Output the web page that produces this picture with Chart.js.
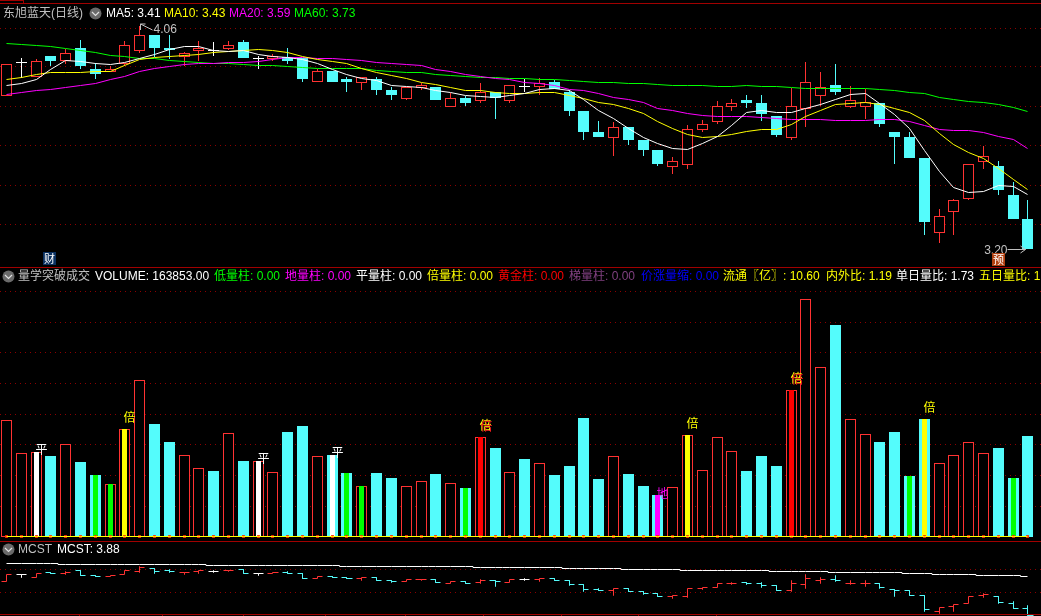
<!DOCTYPE html>
<html>
<head>
<meta charset="utf-8">
<script src="https://cdn.jsdelivr.net/npm/chart.js@4.4.1/dist/chart.umd.min.js"></script>
<style>
  html, body { margin: 0; background: #000; width: 1041px; height: 616px; overflow: hidden; }
  canvas { position: absolute; left: 0; }
  .t { position: absolute; white-space: nowrap; font: 12px/14px "Liberation Sans", "Noto Sans CJK SC", sans-serif; }
  .rule { position: absolute; left: 0; width: 1041px; height: 1px; background: #a00000; }
  .icon { position: absolute; }
  .tag { position: absolute; width: 13px; height: 13px; color: #fff; text-align: center; font: 11px/13px "Noto Sans CJK SC", sans-serif; }
</style>
</head>
<body>
<canvas id="priceChart" width="1041" height="267" style="top:0"></canvas>
<canvas id="volumeChart" width="1041" height="274" style="top:267px"></canvas>
<canvas id="mcstChart" width="1041" height="75" style="top:541px"></canvas>
<div class="rule" style="top:0;width:23px"></div>
<div class="rule" style="top:0;left:23px;width:1px;height:3px"></div>
<div class="rule" style="top:3px"></div>
<div class="rule" style="top:267px"></div>
<div class="rule" style="top:541px"></div>
<div class="rule" style="top:614px"></div>
<div id="labels"></div>
<script>
/* ================================
   DATA
================================ */
const opens = [
  3.792, 3.916, 3.864, 3.944, 3.925, 3.975, 3.894, 3.884, 3.914, 3.965,
  4.025, 3.975, 3.942, 3.965, 3.964, 3.971, 3.997, 3.934, 3.934, 3.939,
  3.938, 3.843, 3.885, 3.856, 3.842, 3.856, 3.813, 3.780, 3.821, 3.824,
  3.749, 3.783, 3.772, 3.805, 3.772, 3.824, 3.824, 3.844, 3.806, 3.733,
  3.652, 3.630, 3.671, 3.621, 3.582, 3.518, 3.525, 3.661, 3.691, 3.749,
  3.775, 3.763, 3.713, 3.629, 3.740, 3.792, 3.833, 3.749, 3.749, 3.762,
  3.652, 3.633, 3.552, 3.264, 3.345, 3.395, 3.537, 3.521, 3.409, 3.317
];
const closes = [
  3.912, 3.916, 3.925, 3.925, 3.956, 3.907, 3.876, 3.893, 3.987, 4.025,
  3.975, 3.967, 3.955, 3.974, 3.964, 3.986, 3.938, 3.934, 3.943, 3.926,
  3.857, 3.885, 3.845, 3.844, 3.862, 3.813, 3.794, 3.824, 3.832, 3.775,
  3.782, 3.763, 3.806, 3.783, 3.832, 3.824, 3.842, 3.816, 3.733, 3.652,
  3.633, 3.670, 3.621, 3.582, 3.529, 3.539, 3.662, 3.681, 3.752, 3.763,
  3.763, 3.721, 3.640, 3.752, 3.843, 3.824, 3.806, 3.774, 3.766, 3.683,
  3.633, 3.552, 3.305, 3.328, 3.389, 3.527, 3.559, 3.428, 3.317, 3.200
];
const highs = [
  3.912, 3.937, 3.931, 3.944, 3.971, 4.006, 3.917, 3.907, 4.002, 4.060,
  4.025, 4.025, 3.961, 4.002, 3.998, 4.002, 4.006, 3.946, 3.952, 3.975,
  3.938, 3.893, 3.885, 3.865, 3.862, 3.865, 3.824, 3.824, 3.839, 3.824,
  3.801, 3.792, 3.839, 3.805, 3.832, 3.855, 3.859, 3.852, 3.813, 3.733,
  3.694, 3.690, 3.671, 3.621, 3.582, 3.554, 3.679, 3.698, 3.771, 3.779,
  3.794, 3.794, 3.713, 3.822, 3.920, 3.883, 3.914, 3.829, 3.817, 3.762,
  3.652, 3.652, 3.552, 3.355, 3.394, 3.527, 3.598, 3.540, 3.459, 3.390
];
const lows = [
  3.792, 3.860, 3.864, 3.907, 3.914, 3.894, 3.857, 3.883, 3.907, 3.957,
  3.942, 3.933, 3.907, 3.925, 3.946, 3.967, 3.938, 3.896, 3.926, 3.914,
  3.844, 3.843, 3.845, 3.806, 3.813, 3.794, 3.775, 3.775, 3.813, 3.775,
  3.749, 3.752, 3.763, 3.702, 3.763, 3.806, 3.794, 3.816, 3.715, 3.621,
  3.633, 3.559, 3.602, 3.559, 3.521, 3.490, 3.509, 3.652, 3.683, 3.734,
  3.745, 3.694, 3.633, 3.621, 3.671, 3.752, 3.794, 3.744, 3.702, 3.671,
  3.529, 3.552, 3.255, 3.224, 3.255, 3.390, 3.509, 3.409, 3.317, 3.200
];
const ma5 = [
  3.829, 3.840, 3.855, 3.893, 3.926, 3.922, 3.915, 3.911, 3.919, 3.936,
  3.951, 3.970, 3.980, 3.980, 3.965, 3.961, 3.964, 3.951, 3.944, 3.939,
  3.932, 3.916, 3.893, 3.875, 3.856, 3.849, 3.832, 3.826, 3.824, 3.810,
  3.803, 3.793, 3.789, 3.784, 3.793, 3.801, 3.815, 3.819, 3.811, 3.778,
  3.736, 3.705, 3.666, 3.631, 3.606, 3.589, 3.585, 3.608, 3.636, 3.675,
  3.726, 3.734, 3.728, 3.728, 3.742, 3.756, 3.775, 3.797, 3.801, 3.762,
  3.721, 3.666, 3.582, 3.499, 3.439, 3.420, 3.423, 3.447, 3.441, 3.410
];
const ma10 = [
  3.852, 3.862, 3.875, 3.879, 3.879, 3.879, 3.883, 3.885, 3.909, 3.929,
  3.938, 3.942, 3.947, 3.951, 3.959, 3.961, 3.966, 3.970, 3.965, 3.959,
  3.944, 3.932, 3.924, 3.914, 3.898, 3.880, 3.871, 3.859, 3.842, 3.833,
  3.822, 3.812, 3.810, 3.805, 3.799, 3.801, 3.805, 3.805, 3.794, 3.782,
  3.766, 3.758, 3.743, 3.724, 3.691, 3.666, 3.641, 3.629, 3.634, 3.643,
  3.653, 3.662, 3.662, 3.680, 3.711, 3.736, 3.756, 3.763, 3.765, 3.756,
  3.743, 3.728, 3.695, 3.647, 3.602, 3.572, 3.551, 3.512, 3.467, 3.430
];
const ma20 = [
  3.797, 3.802, 3.811, 3.816, 3.824, 3.830, 3.839, 3.855, 3.865, 3.884,
  3.897, 3.903, 3.910, 3.915, 3.917, 3.919, 3.921, 3.925, 3.932, 3.939,
  3.939, 3.936, 3.933, 3.929, 3.926, 3.920, 3.916, 3.912, 3.906, 3.894,
  3.884, 3.875, 3.867, 3.859, 3.852, 3.843, 3.839, 3.832, 3.817, 3.810,
  3.801, 3.785, 3.778, 3.766, 3.743, 3.733, 3.724, 3.715, 3.711, 3.712,
  3.711, 3.707, 3.702, 3.701, 3.701, 3.701, 3.697, 3.697, 3.697, 3.699,
  3.699, 3.693, 3.676, 3.663, 3.658, 3.658, 3.651, 3.636, 3.621, 3.590
];
const ma60 = [
  3.993, 3.989, 3.986, 3.980, 3.974, 3.967, 3.959, 3.948, 3.942, 3.936,
  3.933, 3.926, 3.922, 3.919, 3.917, 3.915, 3.912, 3.909, 3.907, 3.903,
  3.899, 3.898, 3.897, 3.897, 3.897, 3.888, 3.884, 3.882, 3.880, 3.874,
  3.870, 3.865, 3.862, 3.861, 3.857, 3.856, 3.855, 3.853, 3.849, 3.845,
  3.843, 3.842, 3.839, 3.838, 3.835, 3.832, 3.832, 3.829, 3.828, 3.828,
  3.832, 3.828, 3.828, 3.822, 3.820, 3.820, 3.820, 3.820, 3.820, 3.815,
  3.811, 3.805, 3.799, 3.785, 3.778, 3.770, 3.766, 3.758, 3.747, 3.730
];
const volumes = [
  189300, 135500, 137200, 131100, 150200, 121400, 100200, 85000, 174600, 254400,
  183300, 153900, 132300, 111100, 106700, 168100, 123000, 122500, 104600, 170200,
  180000, 130600, 132800, 103400, 81800, 103400, 95300, 81800, 89900, 101800,
  86700, 79000, 161600, 144200, 104600, 126200, 119200, 100200, 114800, 193000,
  93700, 130600, 101800, 82300, 67600, 80100, 164900, 107800, 161600, 138800,
  106700, 131100, 114800, 238200, 386400, 275600, 344500, 190900, 166500, 153900,
  170200, 98600, 191400, 119200, 132300, 153500, 135500, 144200, 95300, 163853
];
// flat candles whose volume bar is still drawn as a rising one
const flatUpDays = [1, 17];
const lowVolDays = [6, 7, 23, 24, 31, 61, 68];   // 低量柱
const flatVolDays = [2, 17, 22];                 // 平量柱
const doubleVolDays = [8, 46, 62];               // 倍量柱
const goldDays = [32, 53];                       // 黄金柱
const groundVolDays = [44];                      // 地量柱
const indicatorZero = [
  0, 0, 0, 0, 0, 0, 0, 0, 0, 0, 0, 0, 0, 0, 0, 0, 0, 0, 0, 0, 0, 0, 0, 0, 0, 0, 0, 0, 0, 0, 0, 0, 0, 0, 0,
  0, 0, 0, 0, 0, 0, 0, 0, 0, 0, 0, 0, 0, 0, 0, 0, 0, 0, 0, 0, 0, 0, 0, 0, 0, 0, 0, 0, 0, 0, 0, 0, 0, 0, 0
];
const mcstOpens = [
  3.83, 3.90, 3.87, 3.92, 3.91, 3.94, 3.89, 3.88, 3.90, 3.93,
  3.96, 3.94, 3.92, 3.93, 3.93, 3.94, 3.95, 3.91, 3.91, 3.92,
  3.91, 3.86, 3.88, 3.87, 3.86, 3.87, 3.84, 3.83, 3.85, 3.85,
  3.81, 3.83, 3.82, 3.84, 3.82, 3.85, 3.85, 3.86, 3.84, 3.80,
  3.75, 3.74, 3.76, 3.73, 3.71, 3.68, 3.68, 3.76, 3.77, 3.81,
  3.82, 3.81, 3.79, 3.74, 3.80, 3.84, 3.85, 3.81, 3.81, 3.81,
  3.75, 3.74, 3.69, 3.53, 3.58, 3.61, 3.69, 3.68, 3.61, 3.56
];
const mcstCloses = [
  3.90, 3.90, 3.91, 3.91, 3.92, 3.89, 3.88, 3.89, 3.94, 3.97,
  3.93, 3.93, 3.92, 3.94, 3.93, 3.94, 3.91, 3.91, 3.92, 3.91,
  3.86, 3.88, 3.87, 3.86, 3.87, 3.84, 3.83, 3.85, 3.85, 3.82,
  3.83, 3.81, 3.84, 3.83, 3.85, 3.85, 3.86, 3.84, 3.80, 3.75,
  3.74, 3.76, 3.73, 3.71, 3.68, 3.69, 3.76, 3.77, 3.81, 3.81,
  3.81, 3.79, 3.74, 3.81, 3.86, 3.85, 3.84, 3.81, 3.81, 3.77,
  3.74, 3.69, 3.55, 3.57, 3.60, 3.68, 3.70, 3.62, 3.56, 3.49
];
const mcstHighs = [
  3.90, 3.90, 3.91, 3.92, 3.93, 3.94, 3.89, 3.89, 3.94, 3.98,
  3.96, 3.95, 3.92, 3.94, 3.94, 3.94, 3.95, 3.91, 3.92, 3.93,
  3.91, 3.88, 3.88, 3.87, 3.87, 3.87, 3.84, 3.85, 3.85, 3.85,
  3.83, 3.83, 3.85, 3.84, 3.85, 3.86, 3.86, 3.86, 3.84, 3.80,
  3.76, 3.76, 3.76, 3.73, 3.71, 3.69, 3.76, 3.77, 3.81, 3.82,
  3.82, 3.82, 3.79, 3.84, 3.90, 3.87, 3.89, 3.84, 3.84, 3.81,
  3.75, 3.74, 3.69, 3.57, 3.60, 3.68, 3.71, 3.68, 3.63, 3.59
];
const mcstLows = [
  3.83, 3.87, 3.87, 3.91, 3.90, 3.89, 3.88, 3.88, 3.90, 3.92,
  3.91, 3.92, 3.90, 3.91, 3.92, 3.93, 3.91, 3.89, 3.91, 3.91,
  3.86, 3.86, 3.87, 3.86, 3.84, 3.84, 3.82, 3.83, 3.84, 3.82,
  3.81, 3.81, 3.81, 3.78, 3.82, 3.84, 3.83, 3.84, 3.79, 3.73,
  3.74, 3.69, 3.73, 3.70, 3.68, 3.66, 3.67, 3.75, 3.77, 3.80,
  3.80, 3.77, 3.74, 3.73, 3.76, 3.81, 3.83, 3.80, 3.78, 3.76,
  3.68, 3.69, 3.53, 3.51, 3.53, 3.61, 3.67, 3.61, 3.56, 3.49
];
const mcstCost = [
  4.01, 4.01, 4.01, 4.01, 4.00, 4.00, 4.00, 4.00, 4.00, 4.00,
  4.00, 4.00, 4.00, 4.00, 3.99, 3.99, 3.99, 3.99, 3.99, 3.99,
  3.99, 3.99, 3.99, 3.98, 3.98, 3.98, 3.98, 3.98, 3.98, 3.98,
  3.98, 3.98, 3.97, 3.97, 3.97, 3.97, 3.97, 3.97, 3.96, 3.96,
  3.96, 3.96, 3.95, 3.95, 3.95, 3.95, 3.94, 3.94, 3.94, 3.94,
  3.94, 3.94, 3.93, 3.93, 3.93, 3.93, 3.92, 3.92, 3.92, 3.92,
  3.92, 3.91, 3.91, 3.90, 3.90, 3.90, 3.89, 3.89, 3.89, 3.88
];
const priceGrid = [4.052, 3.904, 3.752, 3.600, 3.448, 3.296];
const volumeGrid = [50000, 100000, 150000, 200000, 250000, 300000, 350000, 400000];
const mcstGrid = [3.95, 3.72];

const RED = "#ff3232", CYAN = "#54fcfc", WHITE = "#ffffff", YELLOW = "#ffff00",
      MAGENTA = "#ff00ff", GREEN = "#00ff00", GREY = "#c0c0c0", GRID = "#8c0000";

/* ================================
   HEADER TEXT
================================ */
const headerTexts = [
  ["东旭蓝天(日线)", 3, 6, GREY], ["MA5: 3.41", 106, 6, WHITE], ["MA10: 3.43", 164, 6, YELLOW],
  ["MA20: 3.59", 229, 6, MAGENTA], ["MA60: 3.73", 294, 6, GREEN],
  ["量学突破成交", 18, 269, GREY], ["VOLUME: 163853.00", 95, 269, WHITE],
  ["低量柱: 0.00", 214, 269, GREEN], ["地量柱: 0.00", 285, 269, MAGENTA],
  ["平量柱: 0.00", 356, 269, WHITE], ["倍量柱: 0.00", 427, 269, YELLOW],
  ["黄金柱: 0.00", 498, 269, "#ff0000"], ["梯量柱: 0.00", 569, 269, "#804080"],
  ["价涨量缩: 0.00", 641, 269, "#0000ff"], ["流通〖亿〗: 10.60", 723, 269, YELLOW],
  ["内外比: 1.19", 826, 269, YELLOW], ["单日量比: 1.73", 896, 269, WHITE],
  ["五日量比: 1", 979, 269, YELLOW],
  ["MCST", 18, 542, GREY], ["MCST: 3.88", 57, 542, WHITE]
];
const labelBox = document.getElementById("labels");
headerTexts.forEach(([text, left, top, color]) => {
  const d = document.createElement("div");
  d.className = "t";
  d.textContent = text;
  d.style.cssText = `left:${left}px;top:${top}px;color:${color}`;
  labelBox.append(d);
});
[[95, 13], [8, 276], [8, 549]].forEach(([cx, cy]) => {
  labelBox.insertAdjacentHTML("beforeend",
    `<svg class="icon" width="13" height="13" style="left:${cx - 6}px;top:${cy - 6}px">
       <circle cx="6.5" cy="6.5" r="6" fill="#6a6a6a"/>
       <polyline points="3,5 6.5,8.5 10,5" fill="none" stroke="#e0e0e0" stroke-width="1.2"/>
     </svg>`);
});
labelBox.insertAdjacentHTML("beforeend",
  `<div class="tag" style="left:43px;top:252px;background:#0a3060">财</div>
   <div class="tag" style="left:992px;top:253px;background:#b04010">预</div>`);
// stubs of the cut-off date axis under the last pane
[79, 162, 243, 325, 405, 483, 561, 638, 716].forEach(left => {
  labelBox.insertAdjacentHTML("beforeend", `<div class="rule" style="top:615px;left:${left}px;width:1px"></div>`);
});

/* ================================
   SCALE THAT LANDS ON WHOLE PIXELS
================================ */
class SnapScale extends Chart.LinearScale {
  getPixelForValue(value) {
    const off = this.options.snap;
    return Math.round(super.getPixelForValue(value) - off) + off;
  }
}
SnapScale.id = "snap";
SnapScale.defaults = Chart.LinearScale.defaults;
Chart.register(SnapScale);

function xAxis() {
  return { type: "snap", snap: 0.5, min: -0.439, max: 69.88, display: false, offset: false, bounds: "data", grid: { offset: false } };
}
function barAxis(min, max, gridValues) {
  return {
    type: "snap", snap: 0, axis: "y", position: "left", min, max, bounds: "data",
    ticks: { display: false },
    grid: { color: GRID, lineWidth: 1, drawTicks: false, tickLength: 0 },
    border: { display: false, dash: [1, 4] },
    afterFit: s => { s.width = 0; },
    afterBuildTicks: s => { s.ticks = gridValues.map(value => ({ value })); }
  };
}
function lineAxis(min, max) {
  return { type: "snap", snap: 0.5, axis: "y", position: "left", min, max, bounds: "data", display: false };
}
function baseOptions(scales) {
  return {
    responsive: false, animation: false, events: [],
    layout: { padding: 0, autoPadding: false },
    plugins: { legend: { display: false }, tooltip: { enabled: false } },
    scales
  };
}
function lineSet(values, color, order, extra) {
  return Object.assign({
    type: "line", yAxisID: "yLine", order, borderColor: color, borderWidth: 1,
    pointRadius: 0, tension: 0,
    data: values.map((y, x) => ({ x, y }))
  }, extra);
}
function dayColor(i) {
  return closes[i] > opens[i] ? RED : closes[i] < opens[i] ? CYAN : WHITE;
}
function isRising(i) {
  return closes[i] > opens[i] || flatUpDays.includes(i);
}

/* ================================
   PRICE PANE
================================ */
const priceNotes = {
  id: "priceNotes",
  afterDatasetsDraw(chart) {
    const { ctx, scales } = chart;
    const hx = scales.x.getPixelForValue(9), hy = scales.y.getPixelForValue(highs[9]);
    const lx = scales.x.getPixelForValue(69), ly = scales.y.getPixelForValue(lows[69]);
    ctx.save();
    ctx.strokeStyle = ctx.fillStyle = GREY;
    ctx.lineWidth = 1;
    ctx.font = '12px "Liberation Sans"';
    ctx.textBaseline = "middle";
    ctx.beginPath();
    ctx.moveTo(hx + 1, hy + 4); ctx.lineTo(hx + 1, hy - 2); ctx.lineTo(hx + 6, hy - 2);
    ctx.moveTo(hx + 1, hy - 2); ctx.lineTo(hx + 13, hy + 4);
    ctx.moveTo(lx - 20, ly + 0.5); ctx.lineTo(lx - 2, ly + 0.5);
    ctx.moveTo(lx - 7, ly - 3); ctx.lineTo(lx - 2, ly + 0.5); ctx.lineTo(lx - 7, ly + 4);
    ctx.stroke();
    ctx.fillText("4.06", hx + 14, hy + 4);
    ctx.textAlign = "right";
    ctx.fillText("3.20", lx - 20, ly + 2);
    ctx.restore();
  }
};

new Chart(document.getElementById("priceChart"), {
  type: "bar",
  data: {
    datasets: [
      lineSet(ma5, WHITE, 0), lineSet(ma10, YELLOW, 1), lineSet(ma20, MAGENTA, 2), lineSet(ma60, GREEN, 3),
      {
        order: 4, barThickness: 11, grouped: false, borderWidth: 1, borderSkipped: false, minBarLength: 1, inflateAmount: 0,
        backgroundColor: opens.map((o, i) => dayColor(i) === RED ? "#000000" : dayColor(i)),
        borderColor: opens.map((o, i) => dayColor(i)),
        data: opens.map((o, i) => ({ x: i, y: [o, closes[i]] }))
      },
      {
        order: 5, barThickness: 1, grouped: false, borderWidth: 0, inflateAmount: 0,
        backgroundColor: opens.map((o, i) => dayColor(i)),
        data: lows.map((l, i) => ({ x: i, y: [l, highs[i]] }))
      }
    ]
  },
  options: baseOptions({ x: xAxis(), y: barAxis(3.132, 4.16, priceGrid), yLine: lineAxis(3.132, 4.16) }),
  plugins: [priceNotes]
});

/* ================================
   VOLUME PANE
================================ */
function innerBars(days, color, order) {
  return {
    order, barThickness: 5, grouped: false, borderWidth: 0, inflateAmount: 0, backgroundColor: color,
    data: days.map(i => ({ x: i, y: volumes[i] }))
  };
}
const volumeMarks = {
  id: "volumeMarks",
  afterDatasetsDraw(chart) {
    const { ctx, scales } = chart;
    const mark = (days, text, color, up, dx) => days.forEach(i => {
      ctx.fillStyle = color;
      ctx.fillText(text, scales.x.getPixelForValue(i) + 5 + dx, scales.y.getPixelForValue(volumes[i]) - up + dx);
    });
    ctx.save();
    ctx.font = '12px "Noto Sans CJK SC"';
    ctx.textAlign = "center";
    ctx.textBaseline = "middle";
    mark(flatVolDays, "平", WHITE, 3, 0);
    mark(doubleVolDays, "倍", YELLOW, 12, 0);
    mark(goldDays, "倍", YELLOW, 12, 0);
    mark(goldDays, "倍", "#ff2020", 12, 1);
    mark(groundVolDays, "地", MAGENTA, 2, 0);
    ctx.restore();
  }
};

new Chart(document.getElementById("volumeChart"), {
  type: "bar",
  data: {
    datasets: [
      lineSet(indicatorZero, YELLOW, 0),
      lineSet(indicatorZero, "#ff3000", 1, { showLine: false, pointStyle: "rect", pointRadius: 2, pointBackgroundColor: "#ff3000", pointBorderWidth: 0 }),
      innerBars(lowVolDays, GREEN, 2),
      innerBars(flatVolDays, WHITE, 2),
      innerBars(doubleVolDays, YELLOW, 2),
      innerBars(goldDays, "#ff0000", 2),
      innerBars(groundVolDays, MAGENTA, 2),
      {
        order: 3, barThickness: 11, grouped: false, borderWidth: 1, borderSkipped: false, inflateAmount: 0,
        backgroundColor: volumes.map((v, i) => isRising(i) ? "#000000" : CYAN),
        borderColor: volumes.map((v, i) => isRising(i) ? RED : CYAN),
        data: volumes.map((y, x) => ({ x, y }))
      }
    ]
  },
  options: baseOptions({ x: xAxis(), y: barAxis(-7330, 439000, volumeGrid), yLine: lineAxis(-7330, 439000) }),
  plugins: [volumeMarks]
});

/* ================================
   MCST PANE
================================ */
const mcstTicks = mcstOpens.map((o, i) => lineSet([], dayColor(i), 1, {
  data: [
    { x: i - 0.34, y: o }, { x: i, y: o }, { x: i, y: mcstHighs[i] },
    { x: i, y: mcstLows[i] }, { x: i, y: mcstCloses[i] }, { x: i + 0.34, y: mcstCloses[i] }
  ]
}));

new Chart(document.getElementById("mcstChart"), {
  type: "line",
  data: {
    datasets: [lineSet(mcstCost, WHITE, 0, { stepped: "middle" }), ...mcstTicks]
  },
  options: baseOptions({ x: xAxis(), y: barAxis(3.483, 4.233, mcstGrid), yLine: lineAxis(3.483, 4.233) })
});
</script>
</body>
</html>
